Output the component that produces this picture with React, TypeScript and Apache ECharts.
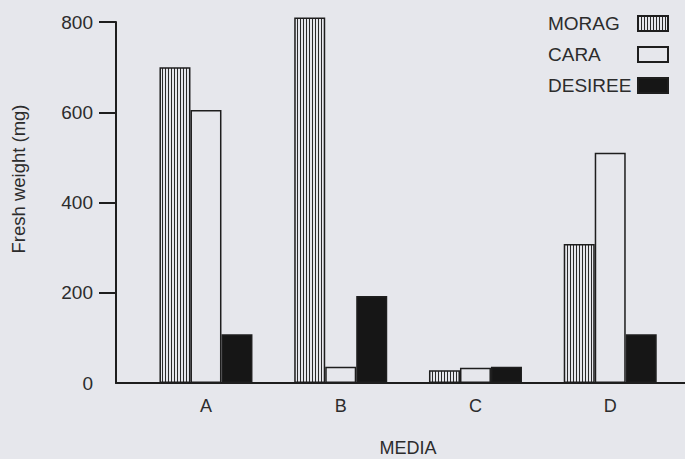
import React, { useEffect, useRef } from "react";
import * as echarts from "echarts";

const categories = ["A", "B", "C", "D"];
const morag = [700, 810, 28, 308];
const cara = [605, 36, 34, 510];
const desiree = [108, 193, 36, 108];
const yTicks = [0, 200, 400, 600, 800];

const BG = "#e6e7ec";
const INK = "#1e1e1e";
const TEXT = "#2c2c2c";
const FONT = "'Liberation Sans', Arial, Helvetica, sans-serif";

function makeHatch(): HTMLCanvasElement {
  const c = document.createElement("canvas");
  c.width = 3;
  c.height = 10;
  const ctx = c.getContext("2d")!;
  ctx.fillStyle = BG;
  ctx.fillRect(0, 0, 3, 10);
  ctx.fillStyle = "#2a2a2a";
  ctx.fillRect(0, 0, 1, 10);
  return c;
}

export default function App() {
  const ref = useRef<HTMLDivElement>(null);
  useEffect(() => {
    if (!ref.current) return;
    const chart = echarts.init(ref.current, undefined, { renderer: "svg" });
    const hatch = makeHatch();
    const barBase = {
      type: "bar" as const,
      xAxisIndex: 0,
      yAxisIndex: 0,
      barWidth: 31,
      barGap: "0%",
      clip: false,
    };
    chart.setOption({
      animation: false,
      backgroundColor: BG,
      textStyle: { fontFamily: FONT },
      grid: [
        { left: 138.6, right: 7.4, top: 22, bottom: 76, outerBoundsMode: "none", containLabel: false },
        { left: 116, right: 0, top: 22, bottom: 76, outerBoundsMode: "none", containLabel: false },
      ],
      legend: {
        orient: "vertical",
        right: 11,
        top: 9,
        align: "right",
        icon: "rect",
        itemWidth: 30,
        itemHeight: 15,
        itemGap: 12,
        formatter: "{a|{name}}",
        textStyle: {
          rich: {
            a: {
              width: 85,
              align: "left",
              fontSize: 19,
              lineHeight: 19,
              color: TEXT,
              fontFamily: FONT,
            },
          },
        },
        data: ["MORAG", "CARA", "DESIREE"],
      },
      xAxis: [
        {
          type: "category",
          gridIndex: 0,
          data: categories,
          axisLine: { show: false },
          axisTick: { show: false },
          axisLabel: { fontSize: 18, margin: 14, color: TEXT },
          name: "MEDIA",
          nameLocation: "middle",
          nameGap: 56,
          nameTextStyle: { fontSize: 18, color: TEXT },
        },
        {
          type: "value",
          gridIndex: 1,
          min: 0,
          max: 1,
          axisLine: { show: true, lineStyle: { color: INK, width: 2 } },
          axisTick: { show: false },
          axisLabel: { show: false },
          splitLine: { show: false },
        },
      ],
      yAxis: [
        { type: "value", gridIndex: 0, min: 0, max: 800, show: false },
        {
          type: "value",
          gridIndex: 1,
          min: 0,
          max: 800,
          interval: 200,
          axisLine: { show: true, lineStyle: { color: INK, width: 2 } },
          axisTick: {
            show: true,
            length: 17,
            lineStyle: { color: INK, width: 2 },
            customValues: yTicks.filter((v) => v > 0),
          },
          axisLabel: {
            fontSize: 19,
            margin: 23,
            color: TEXT,
            customValues: yTicks,
          },
          splitLine: { show: false },
        },
      ],
      graphic: [
        {
          type: "text",
          x: 18,
          y: 179,
          rotation: Math.PI / 2,
          style: {
            text: "Fresh weight (mg)",
            font: `18.5px ${FONT}`,
            fill: TEXT,
            align: "center",
            verticalAlign: "middle",
          },
        },
      ],
      series: [
        {
          ...barBase,
          name: "MORAG",
          data: morag,
          itemStyle: {
            color: { image: hatch, repeat: "repeat", imageWidth: 3, imageHeight: 10 },
            borderColor: INK,
            borderWidth: 1.5,
          },
        },
        {
          ...barBase,
          name: "CARA",
          data: cara,
          itemStyle: { color: BG, borderColor: INK, borderWidth: 1.5 },
        },
        {
          ...barBase,
          name: "DESIREE",
          data: desiree,
          itemStyle: { color: "#161616", borderColor: INK, borderWidth: 1.5 },
        },
      ],
    });
    return () => chart.dispose();
  }, []);
  return (
    <div
      ref={ref}
      style={{ position: "absolute", left: 0, top: 0, width: 685, height: 459 }}
    />
  );
}
